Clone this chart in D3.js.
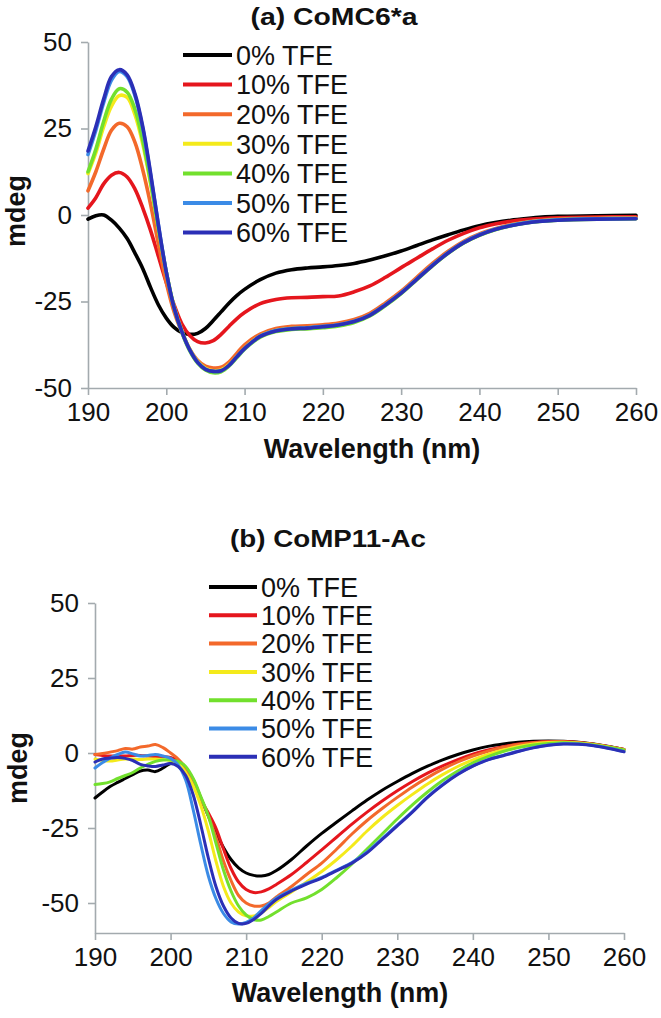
<!DOCTYPE html>
<html><head><meta charset="utf-8">
<script src="https://cdn.jsdelivr.net/npm/d3@7"></script>
<style>
body{margin:0;background:#fff;}
svg{display:block;font-family:"Liberation Sans",Arial,sans-serif;}
</style></head><body>
<svg id="chart" width="661" height="1018"></svg>
<script>
// ---------- data ----------
const seriesLabels = ["0% TFE","10% TFE","20% TFE","30% TFE","40% TFE","50% TFE","60% TFE"];
const seriesColors = ["#000000","#e5161d","#f3692b","#f4ea1b","#72e02d","#3b8be6","#2b2fb6"];
const xTickValues = [190,200,210,220,230,240,250,260];
const yTickValues = [-50,-25,0,25,50];

// panel (a) CoMC6*a
const wlA = [190,191,192,193,194,195,196,197,198,199,200,201,202,203,204,205,206,207,208,209,210,
  212,214,216,218,220,222,224,226,228,230,232,234,236,238,240,242,244,246,248,250,255,260];
const a0 = [-1.2,-0.2,0,-1.5,-3.8,-6.8,-11,-15.5,-21,-26,-29.8,-32.5,-34,-34.5,-34.2,-32.8,-30.5,-28,-25.5,-23.3,-21.5,
  -18.7,-16.8,-15.8,-15.3,-15,-14.6,-14,-13,-11.8,-10.4,-8.8,-7.2,-5.7,-4.3,-3.1,-2.2,-1.5,-1,-0.6,-0.4,-0.2,-0.1];
const a10 = [2,5,9,11.5,12.3,11,7.5,2,-4.5,-12,-19.5,-26,-31.5,-34.8,-36.6,-37,-36.3,-34.5,-32.2,-30,-28.2,
  -25.6,-24.4,-23.9,-23.8,-23.6,-23.4,-22.2,-20.5,-18,-15.2,-12.5,-9.8,-7.3,-5.3,-3.7,-2.6,-1.8,-1.3,-1,-0.8,-0.6,-0.5];
const a20 = [7,12.5,19,24.5,26.5,25.5,21,13,3,-8.5,-19.5,-28,-34,-38.8,-42,-43.7,-44.2,-44,-42.5,-40,-37.5,
  -34.4,-32.8,-32.2,-32,-31.7,-31.2,-30.2,-28.4,-25.4,-22,-18,-14,-10.5,-7.6,-5.5,-4,-2.8,-2,-1.5,-1.2,-0.9,-0.8];
const a30 = [12,18,25.5,31.5,34.5,34,29,20.5,9,-4,-16.5,-26.5,-33.5,-38.8,-42.3,-44.3,-45,-44.8,-43.3,-41,-38.5,
  -35,-33.4,-32.8,-32.6,-32.3,-31.8,-30.8,-29,-26,-22.6,-18.6,-14.6,-11,-8,-5.8,-4.2,-3,-2.2,-1.7,-1.4,-1.1,-1];
const a40 = [12.5,19,27,33.5,36.5,35.5,30.5,21.5,9.5,-4,-16.5,-26.8,-34,-39.3,-42.8,-44.8,-45.6,-45.3,-43.7,-41.3,-38.8,
  -35.3,-33.7,-33.1,-32.9,-32.6,-32.1,-31.1,-29.2,-26.2,-22.7,-18.7,-14.7,-11.1,-8.1,-5.9,-4.3,-3.1,-2.3,-1.8,-1.5,-1.2,-1.1];
const a50 = [17.5,24.5,32.5,39,41.5,40,34.5,25,11.5,-3,-16.5,-26.8,-33.8,-39,-42.5,-44.5,-45.2,-45,-43.5,-41,-38.6,
  -35,-33.4,-32.8,-32.6,-32.2,-31.7,-30.7,-28.9,-25.9,-22.5,-18.5,-14.5,-10.9,-7.9,-5.7,-4.1,-3,-2.2,-1.7,-1.4,-1.1,-1];
const a60 = [18.5,25.5,33.5,40,42,40.5,35,25.5,12,-3,-16.5,-26.8,-33.8,-39,-42.6,-44.6,-45.2,-45,-43.5,-41,-38.6,
  -35.1,-33.5,-32.9,-32.7,-32.3,-31.8,-30.8,-29,-26,-22.6,-18.6,-14.6,-11,-8,-5.8,-4.2,-3.1,-2.3,-1.8,-1.5,-1.2,-1.1];

// panel (b) CoMP11-Ac
const wlB = [190,191,192,193,194,195,196,197,198,199,200,201,202,203,204,205,206,207,208,209,210,211,212,213,214,
  216,218,220,222,224,226,228,230,232,234,236,238,240,242,244,246,248,250,252,254,256,258,260];
const b0 = [-15,-13,-11.2,-9.8,-8.5,-7.2,-6,-5.7,-6.2,-5,-3.5,-3.3,-5,-9,-15,-21,-26.5,-31.5,-35.5,-38.3,-40,-40.8,-41,-40.5,-39.2,
  -35.5,-31,-26.8,-23,-19.3,-15.7,-12.4,-9.5,-6.8,-4.4,-2.3,-0.5,1,2.2,3,3.6,3.9,4,3.9,3.6,3,2.2,1.2];
const b10 = [-0.5,-0.8,-1,-1,-1,-0.8,-0.8,-1,-1.2,-1.2,-1.5,-2.5,-5,-9.5,-15.5,-20,-25,-32,-38.5,-43,-45.5,-46.5,-46.3,-45.3,-43.8,
  -40.5,-36.5,-32.3,-28,-23.7,-19.7,-16,-12.6,-9.5,-6.7,-4.3,-2.2,-0.4,1,2.1,3,3.5,3.8,3.8,3.5,2.9,2.1,1.2];
const b20 = [-0.5,-0.2,0.3,0.8,1.5,1.3,2,2.3,2.8,1.8,0,-2,-5,-9.5,-15,-21,-28,-36,-42.5,-47.5,-50,-51,-51,-50,-48,
  -44.5,-40.5,-36.7,-32,-27,-22.5,-18.5,-14.8,-11.3,-8.2,-5.4,-3,-1,0.6,1.9,2.8,3.4,3.7,3.7,3.4,2.8,2,1.2];
const b30 = [-2,-2.5,-2.7,-2.3,-2,-2,-2.2,-2,-2,-2.2,-2.5,-3.5,-6.5,-11,-17.5,-26,-36,-44.5,-50,-53,-54.3,-54.3,-53.3,-51.5,-49.5,
  -46.3,-43,-39.5,-35.5,-31,-26,-21.5,-17.5,-13.8,-10.3,-7.2,-4.5,-2.3,-0.5,1,2.2,3,3.5,3.6,3.3,2.8,2,1];
const b40 = [-10.5,-10.2,-9.6,-8.5,-7.5,-6.5,-5,-3.8,-2.8,-2.3,-2.3,-2.8,-4.5,-8.5,-14.5,-21,-30,-39,-46,-51,-54,-55.5,-55.7,-54.5,-53,
  -50,-48.3,-45.5,-41.5,-37,-32,-27,-22,-17.3,-13,-9.2,-6,-3.3,-1.2,0.5,1.8,2.7,3.2,3.4,3.2,2.7,1.9,1];
const b50 = [-5,-3.2,-1.7,-0.5,0.3,-0.3,-1,-0.8,-0.5,-1,-1.8,-4,-9,-19,-30.5,-41,-48.5,-53.5,-56.3,-57,-56.5,-55,-52.5,-50.3,-48.3,
  -45.7,-43.4,-41.5,-39,-36.5,-33,-28.5,-24,-19.5,-14.6,-10.5,-7,-4.3,-2.2,-0.8,0.6,1.8,2.7,3.1,3,2.5,1.6,0.5];
const b60 = [-3,-2,-1.7,-1.5,-1.8,-2.5,-3.8,-4.3,-4.5,-4,-3.5,-4.5,-7.5,-14,-24,-35,-44.5,-51,-55,-56.8,-56.8,-55.5,-53.5,-51,-48.8,
  -46,-43.7,-41.7,-39.2,-36.7,-33.3,-28.8,-24.3,-19.7,-14.8,-10.7,-7.2,-4.4,-2.3,-0.9,0.5,1.7,2.6,3,2.9,2.4,1.5,0.4];

// ---------- drawing ----------
const svg = d3.select("#chart");
const axisColor = "#a3aaae";

const panels = [
  { title: "(a) CoMC6*a", titleX: 334, titleY: 25, titleLen: 167,
    x: wlA, series: [a0,a10,a20,a30,a40,a50,a60],
    xr: [88,636], yDom: [-50,50], yr: [388,42],
    legX: 183, legLen: 49, legY0: 55, legDy: 29.6, lineW: 3.6,
    xlabX: 372, xlabY: 458, ylabX: 25, ylabY: 211 },
  { title: "(b) CoMP11-Ac", titleX: 328, titleY: 547, titleLen: 196,
    x: wlB, series: [b0,b10,b20,b30,b40,b50,b60],
    xr: [95,624], yDom: [-60,50], yr: [933,603],
    legX: 209, legLen: 48, legY0: 587, legDy: 28.3, lineW: 3.0,
    xlabX: 340, xlabY: 1002, ylabX: 27, ylabY: 768 }
];

panels.forEach(p => {
  const g = svg.append("g");
  const x = d3.scaleLinear().domain([190,260]).range(p.xr);
  const y = d3.scaleLinear().domain(p.yDom).range(p.yr);

  // axes (plain hyphen-minus labels as in the original)
  const xAxis = d3.axisBottom(x).tickValues(xTickValues).tickFormat(d => String(d))
    .tickSize(7).tickSizeOuter(0).tickPadding(8);
  const yAxis = d3.axisLeft(y).tickValues(yTickValues).tickFormat(d => String(d))
    .tickSize(7).tickSizeOuter(0).tickPadding(9);
  const gx = g.append("g").attr("transform", `translate(0,${p.yr[0]})`).call(xAxis);
  const gy = g.append("g").attr("transform", `translate(${p.xr[0]},0)`).call(yAxis);
  [gx, gy].forEach(a => {
    a.select(".domain").attr("stroke", axisColor).attr("stroke-width", 1.6);
    a.selectAll(".tick line").attr("stroke", axisColor).attr("stroke-width", 1.6);
    a.selectAll(".tick text").attr("fill", "#111").style("font-size", "26px")
      .style("font-family", '"Liberation Sans", Arial, sans-serif');
  });

  // lines
  const line = d3.line().x((d,i) => x(p.x[i])).y(d => y(d)).curve(d3.curveCatmullRom.alpha(0.5));
  p.series.forEach((s, k) => {
    g.append("path").datum(s).attr("d", line)
      .attr("fill", "none").attr("stroke", seriesColors[k])
      .attr("stroke-width", p.lineW).attr("stroke-linejoin", "round").attr("stroke-linecap", "round");
  });

  // legend
  seriesLabels.forEach((lab, k) => {
    const yy = p.legY0 + k * p.legDy;
    g.append("line").attr("x1", p.legX).attr("x2", p.legX + p.legLen)
      .attr("y1", yy).attr("y2", yy).attr("stroke", seriesColors[k]).attr("stroke-width", 4);
    g.append("text").attr("x", p.legX + p.legLen + 4).attr("y", yy).attr("dy", "0.36em")
      .attr("fill", "#111").style("font-size", "27px").text(lab);
  });

  // title
  g.append("text").attr("x", p.titleX).attr("y", p.titleY).attr("text-anchor", "middle")
    .attr("textLength", p.titleLen).attr("lengthAdjust", "spacingAndGlyphs")
    .style("font-size", "24px").style("font-weight", "bold").attr("fill", "#111").text(p.title);

  // axis labels
  g.append("text").attr("x", p.xlabX).attr("y", p.xlabY).attr("text-anchor", "middle")
    .style("font-size", "27px").style("font-weight", "bold").attr("fill", "#111").text("Wavelength (nm)");
  g.append("text").attr("transform", `translate(${p.ylabX},${p.ylabY}) rotate(-90)`)
    .attr("text-anchor", "middle").style("font-size", "27px").style("font-weight", "bold")
    .attr("fill", "#111").text("mdeg");
});
</script>
</body></html>
